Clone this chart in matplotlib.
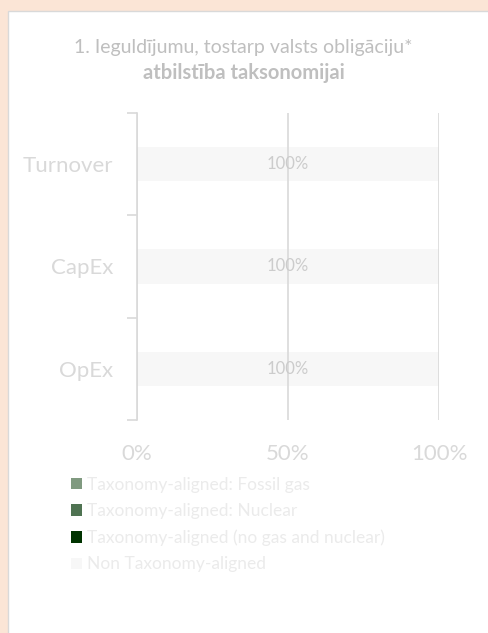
import numpy as np
import matplotlib.pyplot as plt
from matplotlib.patches import Rectangle, Patch

plt.rcParams['font.family'] = ['Lato', 'DejaVu Sans']

categories = ['Turnover', 'CapEx', 'OpEx']
series_names = ['Taxonomy-aligned: Fossil gas',
                'Taxonomy-aligned: Nuclear',
                'Taxonomy-aligned (no gas and nuclear)',
                'Non Taxonomy-aligned']
series_values = [
    [0, 0, 0],
    [0, 0, 0],
    [0, 0, 0],
    [100, 100, 100],
]
series_colors = ['#809A80', '#4F7352', '#003300', '#F7F7F7']
x_ticks = [0, 50, 100]
x_tick_labels = ['0%', '50%', '100%']
title_line1 = '1. Ieguldījumu, tostarp valsts obligāciju*'
title_line2 = 'atbilstība taksonomijai'


def main() -> None:
    fig = plt.figure(figsize=(4.88, 6.33), dpi=100)
    fig.patch.set_facecolor('#FBE5D6')
    fig.patches.append(Rectangle((8 / 488, -0.01), 1.0, 0.9826 + 0.01,
                                 transform=fig.transFigure, facecolor='white',
                                 edgecolor='#D9D9D9', linewidth=1.0, zorder=-5))

    fig.text(243 / 488, 1 - 48 / 633, title_line1, ha='center', va='center',
             fontsize=14, color='#BFBFBF')
    fig.text(244 / 488, 1 - 73 / 633, title_line2, ha='center', va='center',
             fontsize=14.5, color='#BFBFBF', fontweight='bold')

    ax = fig.add_axes([137 / 488, 1 - 420 / 633, 302 / 488, 307 / 633])
    ax.set_facecolor('none')
    y = np.arange(len(categories))
    left = np.zeros(len(categories))
    for name, values, color in zip(series_names, series_values, series_colors):
        vals = np.array(values, dtype=float)
        bars = ax.barh(y, vals, left=left, height=0.333, color=color, label=name, zorder=1)
        if name == 'Non Taxonomy-aligned':
            ax.bar_label(bars, labels=['%d%%' % v for v in values], label_type='center',
                         fontsize=12, color='#CCCCCC', zorder=3)
        left += vals

    ax.set_xlim(0, 100)
    ax.set_ylim(len(categories) - 0.5, -0.5)
    ax.set_xticks(x_ticks)
    ax.set_xticklabels(x_tick_labels, fontsize=16, color='#D9D9D9')
    ax.set_yticks(y)
    ax.set_yticklabels(categories, fontsize=16, color='#D9D9D9')
    ax.set_yticks(np.arange(-0.5, len(categories)), minor=True)
    ax.tick_params(axis='y', which='major', length=0, pad=17)
    ax.tick_params(axis='y', which='minor', length=7, color='#D9D9D9', width=1.2)
    ax.tick_params(axis='x', length=0, pad=17)
    ax.grid(axis='x', color='#D9D9D9', linewidth=1.2, zorder=2)
    ax.set_axisbelow(False)
    for side in ['top', 'right', 'bottom']:
        ax.spines[side].set_visible(False)
    ax.spines['left'].set_color('#D9D9D9')
    ax.spines['left'].set_linewidth(1.2)
    ax.spines['left'].set_zorder(2)

    handles = [Patch(facecolor=c, edgecolor='none') for c in series_colors]
    fig.legend(handles, series_names, loc='upper left',
               bbox_to_anchor=(55 / 488, 1 - 461 / 633), frameon=False,
               fontsize=12.5, labelcolor='#EBEBEB', handlelength=0.65,
               handleheight=0.65, handletextpad=0.3, labelspacing=0.6)

    fig.savefig('out.png', dpi=100, facecolor=fig.get_facecolor())


if __name__ == '__main__':
    main()
